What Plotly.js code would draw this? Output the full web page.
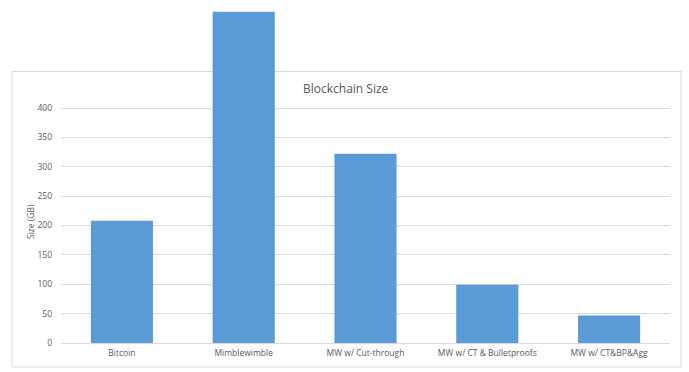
<!DOCTYPE html>
<html>
<head>
<meta charset="utf-8">
<script src="https://cdn.plot.ly/plotly-3.0.1.min.js"></script>
<style>html,body{margin:0;padding:0;background:#fff;}#chart{width:689px;height:372px;}</style>
</head>
<body>
<div id="chart"></div>
<script>
const categories = ["Bitcoin", "Mimblewimble", "MW w/ Cut-through", "MW w/ CT & Bulletproofs", "MW w/ CT&BP&Agg"];
const sizesGB = [208, 564, 322, 99, 47];
const yTicks = [0, 50, 100, 150, 200, 250, 300, 350, 400];
const chartTitle = "Blockchain Size";
const yTitle = "Size (GB)";

const W = 689, H = 372;
const mL = 61, mR = 19, mT = 0, mB = 29;
const pw = W - mL - mR, ph = H - mT - mB;
const px = x => (x - mL) / pw;
const py = y => (H - mB - y) / ph;

const trace = {
  type: "bar",
  x: categories,
  y: sizesGB,
  marker: {color: "#5b9bd5"},
  hoverinfo: "none"
};

const layout = {
  width: W, height: H,
  margin: {l: mL, r: mR, t: mT, b: mB, pad: 0},
  paper_bgcolor: "#ffffff",
  plot_bgcolor: "rgba(0,0,0,0)",
  bargap: 0.49,
  showlegend: false,
  font: {family: "Open Sans, Liberation Sans, sans-serif", color: "#595959", size: 8.5},
  xaxis: {
    type: "category",
    showgrid: false, showline: false, zeroline: false,
    ticks: "", ticklabelstandoff: 3,
    tickfont: {size: 8.5, color: "#595959"},
    fixedrange: true
  },
  yaxis: {
    range: [0, ph / 0.5875],
    tickvals: yTicks,
    ticktext: yTicks.map(String),
    showgrid: true, gridcolor: "#d9d9d9", gridwidth: 1,
    zeroline: true, zerolinecolor: "#d9d9d9", zerolinewidth: 1,
    showline: false, ticks: "",
    ticklabelstandoff: 8,
    tickfont: {size: 8.5, color: "#595959"},
    fixedrange: true
  },
  shapes: [{
    type: "rect", xref: "paper", yref: "paper", layer: "below",
    x0: px(12), x1: px(681), y0: py(367), y1: py(71.5),
    line: {color: "#d9d9d9", width: 1}, fillcolor: "rgba(0,0,0,0)"
  }],
  annotations: [
    {text: chartTitle, xref: "paper", yref: "paper", x: px(346), y: py(88),
     showarrow: false, xanchor: "center", yanchor: "middle",
     font: {size: 12, color: "#595959"}},
    {text: yTitle, xref: "paper", yref: "paper", x: px(30), y: py(222),
     showarrow: false, xanchor: "center", yanchor: "middle", textangle: -90,
     font: {size: 8.5, color: "#595959"}}
  ]
};

Plotly.newPlot("chart", [trace], layout, {displayModeBar: false, staticPlot: true});
</script>
</body>
</html>
